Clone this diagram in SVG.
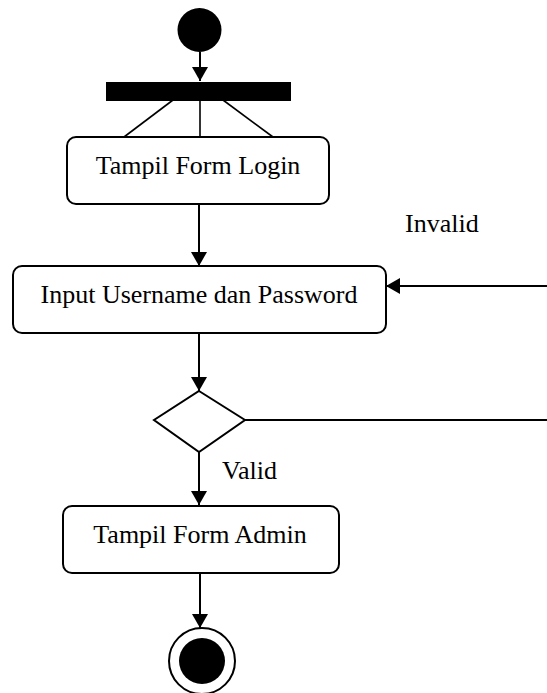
<svg xmlns="http://www.w3.org/2000/svg" width="547" height="693" viewBox="0 0 547 693">
  <style>
    .act { fill: #ffffff; stroke: #000000; stroke-width: 2; }
    .lbl { font-family: "Liberation Serif", "Times New Roman", serif; font-size: 26px; fill: #000000; }
    .flow { fill: none; stroke: #000000; stroke-width: 2; }
    .thin { fill: none; stroke: #000000; stroke-width: 1.6; }
  </style>
  <defs>
    <marker id="arrow" markerUnits="userSpaceOnUse" markerWidth="16" markerHeight="16" viewBox="0 0 16 16" refX="15" refY="8" orient="auto">
      <path d="M1,0 L15,8 L1,16 Z" fill="#000000"/>
    </marker>
  </defs>
  <rect width="547" height="693" fill="#ffffff"/>

  <!-- connectors -->
  <g id="connectors">
    <line class="flow" x1="200" y1="52" x2="200" y2="81" marker-end="url(#arrow)"/>
    <line class="thin" x1="173" y1="100" x2="124" y2="137"/>
    <line class="thin" x1="200" y1="100" x2="200" y2="137"/>
    <line class="thin" x1="223" y1="100" x2="273" y2="137"/>
    <line class="flow" x1="199" y1="204" x2="199" y2="266" marker-end="url(#arrow)"/>
    <line class="flow" x1="199" y1="334" x2="199" y2="391" marker-end="url(#arrow)"/>
    <line class="flow" x1="245" y1="420" x2="547" y2="420"/>
    <line class="flow" x1="547" y1="286" x2="386" y2="286" marker-end="url(#arrow)"/>
    <line class="flow" x1="199" y1="452" x2="199" y2="505" marker-end="url(#arrow)"/>
    <line class="flow" x1="200" y1="573" x2="200" y2="628" marker-end="url(#arrow)"/>
    <text class="lbl" x="405" y="232">Invalid</text>
    <text class="lbl" x="222" y="479">Valid</text>
  </g>

  <!-- initial state -->
  <g id="start">
    <circle cx="199.5" cy="30" r="22" fill="#000000"/>
  </g>

  <!-- fork bar -->
  <g id="fork">
    <rect x="106" y="82" width="185" height="19" fill="#000000"/>
  </g>

  <g id="tampil-form-login">
    <rect class="act" x="67" y="137" width="262" height="67" rx="9" ry="9"/>
    <text class="lbl" x="198" y="174" text-anchor="middle">Tampil Form Login</text>
  </g>

  <g id="input-username-password">
    <rect class="act" x="13" y="266" width="373" height="67" rx="9" ry="9"/>
    <text class="lbl" x="199" y="303" text-anchor="middle">Input Username dan Password</text>
  </g>

  <g id="decision">
    <polygon class="act" points="199,391 245,420 199,452 154,420"/>
  </g>

  <g id="tampil-form-admin">
    <rect class="act" x="63" y="506" width="276" height="67" rx="9" ry="9"/>
    <text class="lbl" x="200" y="543" text-anchor="middle">Tampil Form Admin</text>
  </g>

  <!-- final state -->
  <g id="end">
    <circle cx="202" cy="661" r="33" fill="#ffffff" stroke="#000000" stroke-width="2"/>
    <circle cx="202" cy="661" r="23" fill="#000000"/>
  </g>
</svg>
